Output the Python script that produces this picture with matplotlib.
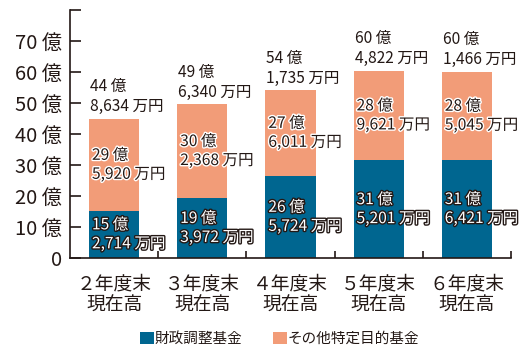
import matplotlib
matplotlib.use("Agg")
import matplotlib.pyplot as plt
import matplotlib.patheffects as pe
from matplotlib.patches import Patch

plt.rcParams['font.family'] = ['Noto Sans CJK JP', 'DejaVu Sans']

categories = ["２年度末\n現在高", "３年度末\n現在高", "４年度末\n現在高", "５年度末\n現在高", "６年度末\n現在高"]
zaisei = [15.2714, 19.3972, 26.5724, 31.5201, 31.6421]
sonota = [29.5920, 30.2368, 27.6011, 28.9621, 28.5045]
zaisei_lbl = [("15 億", "2,714 万円"), ("19 億", "3,972 万円"), ("26 億", "5,724 万円"),
              ("31 億", "5,201 万円"), ("31 億", "6,421 万円")]
sonota_lbl = [("29 億", "5,920 万円"), ("30 億", "2,368 万円"), ("27 億", "6,011 万円"),
              ("28 億", "9,621 万円"), ("28 億", "5,045 万円")]
total_lbl = [("44 億", "8,634 万円"), ("49 億", "6,340 万円"), ("54 億", "1,735 万円"),
             ("60 億", "4,822 万円"), ("60 億", "1,466 万円")]
yticks = [0, 10, 20, 30, 40, 50, 60, 70, 80]
ytick_labels = ["0", "10 億", "20 億", "30 億", "40 億", "50 億", "60 億", "70 億", ""]
legend_labels = ["財政調整基金", "その他特定目的基金"]

BLUE = "#006690"
ORANGE = "#F29C78"
DARK = "#231815"

fig = plt.figure(figsize=(5.29, 3.57), dpi=100)
ax = fig.add_axes([70/529, 99/357, 441/529, 248/357])

x = list(range(len(categories)))
w = 0.57
ax.bar(x, zaisei, width=w, color=BLUE, zorder=2)
ax.bar(x, sonota, width=w, bottom=zaisei, color=ORANGE, zorder=2)

ax.set_xlim(-0.5, 4.5)
ax.set_ylim(0, 80)
for s in ["top", "right"]:
    ax.spines[s].set_visible(False)
for s in ["left", "bottom"]:
    ax.spines[s].set_color(DARK)
    ax.spines[s].set_linewidth(1.2)

ax.set_yticks(yticks)
ax.set_yticklabels(ytick_labels)
ax.tick_params(axis='y', direction='in', length=8, width=1.2, color=DARK,
               labelsize=14.5, labelcolor=DARK, pad=6)
ax.set_xticks(x)
ax.set_xticklabels(categories, linespacing=1.0)
ax.tick_params(axis='x', which='major', length=0, labelsize=13.5, labelcolor=DARK, pad=11)
ax.set_xticks([0.5, 1.5, 2.5, 3.5, 4.5], minor=True)
ax.tick_params(axis='x', which='minor', direction='in', length=5, width=1.2, color=DARK)

fs = 11.2
px = 0.72
def two_lines(xl, yc, lines, color, stroke, dx_px):
    l1, l2 = lines
    kw = dict(xycoords='data', textcoords='offset points', ha='left', va='center',
              fontsize=fs, color=color, zorder=5)
    if stroke is not None:
        kw['path_effects'] = [pe.withStroke(linewidth=2.0, foreground=stroke)]
    ax.annotate(l1, xy=(xl, yc), xytext=(dx_px*px, 9.5*px), **kw)
    ax.annotate(l2, xy=(xl, yc), xytext=(dx_px*px, -9.5*px), **kw)

for i in x:
    left = i - w/2
    two_lines(left, zaisei[i]/2, zaisei_lbl[i], "white", DARK, 3)
    two_lines(left, zaisei[i] + sonota[i]/2, sonota_lbl[i], DARK, "white", 3)
    top = zaisei[i] + sonota[i]
    l1, l2 = total_lbl[i]
    ax.annotate(l1, xy=(left, top), xytext=(1*px, 32*px), textcoords='offset points',
                ha='left', va='center', fontsize=fs, color=DARK)
    ax.annotate(l2, xy=(left, top), xytext=(1*px, 12*px), textcoords='offset points',
                ha='left', va='center', fontsize=fs, color=DARK)

handles = [Patch(facecolor=BLUE, edgecolor='none'), Patch(facecolor=ORANGE, edgecolor='none')]
fig.legend(handles, legend_labels, loc='center', bbox_to_anchor=(280/529, 1-339/357),
           ncol=2, frameon=False, fontsize=10.5, handlelength=0.9, handleheight=0.9,
           handletextpad=0.1, columnspacing=2.1, labelcolor=DARK)

fig.savefig("out.png", dpi=100)
